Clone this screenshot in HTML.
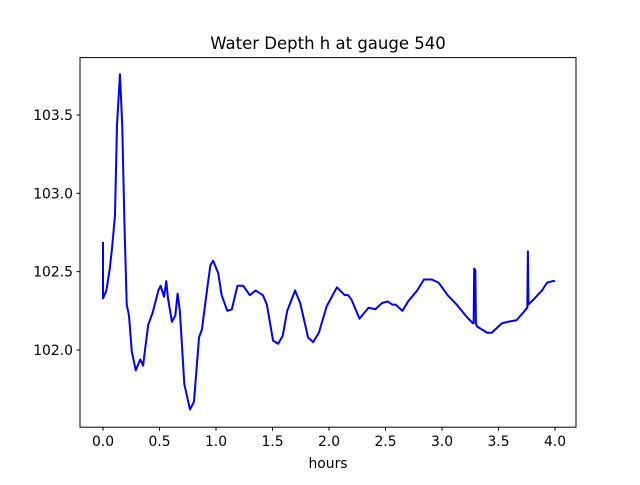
<!DOCTYPE html>
<html><head><meta charset="utf-8"><style>
body{margin:0;background:#fff;}
svg text{font-family:"DejaVu Sans","Liberation Sans",sans-serif;fill:#000;}
</style></head><body>
<svg id="chart" width="640" height="480" viewBox="0 0 640 480" xmlns="http://www.w3.org/2000/svg">
<rect width="640" height="480" fill="#fff"/>
<text x="328" y="49" font-size="16.5" text-anchor="middle">Water Depth h at gauge 540</text>
<text x="328" y="468" font-size="13.9" text-anchor="middle">hours</text>
<g id="plot"></g>
<rect x="80" y="57.6" width="496" height="369.6" fill="none" stroke="#000" stroke-width="1"/>
</svg>
<script>
const hours=[0,0,0.03,0.06,0.08,0.106,0.124,0.15,0.17,0.19,0.21,0.23,0.255,0.29,0.33,0.355,0.37,0.40,0.44,0.49,0.51,0.54,0.56,0.575,0.61,0.64,0.65,0.66,0.68,0.72,0.77,0.805,0.85,0.875,0.92,0.95,0.975,1.02,1.05,1.10,1.14,1.19,1.24,1.30,1.35,1.415,1.45,1.505,1.55,1.59,1.63,1.70,1.745,1.815,1.86,1.91,1.98,2.07,2.14,2.17,2.20,2.27,2.35,2.41,2.47,2.52,2.56,2.59,2.65,2.70,2.78,2.84,2.91,2.97,3.05,3.13,3.22,3.275,3.28,3.285,3.295,3.30,3.31,3.40,3.44,3.53,3.58,3.66,3.72,3.755,3.76,3.765,3.82,3.885,3.93,3.98,4.0];
const depth=[102.69,102.33,102.38,102.52,102.65,102.86,103.44,103.76,103.44,102.8,102.29,102.22,101.99,101.87,101.94,101.9,101.99,102.16,102.24,102.38,102.41,102.34,102.44,102.33,102.18,102.22,102.29,102.36,102.25,101.78,101.62,101.67,102.08,102.13,102.38,102.54,102.57,102.49,102.35,102.25,102.26,102.41,102.41,102.35,102.38,102.35,102.29,102.06,102.04,102.09,102.25,102.38,102.3,102.08,102.05,102.11,102.28,102.4,102.35,102.35,102.32,102.2,102.27,102.26,102.3,102.31,102.29,102.29,102.25,102.31,102.38,102.45,102.45,102.43,102.35,102.29,102.21,102.17,102.17,102.52,102.51,102.17,102.15,102.11,102.11,102.17,102.18,102.19,102.24,102.27,102.63,102.29,102.33,102.38,102.43,102.44,102.44];
const xTicks=[0,0.5,1,1.5,2,2.5,3,3.5,4];
const xTickLabels=["0.0","0.5","1.0","1.5","2.0","2.5","3.0","3.5","4.0"];
const yTicks=[102,102.5,103,103.5];
const yTickLabels=["102.0","102.5","103.0","103.5"];
const X=h=>103+113*h;
const Y=v=>350-156.67*(v-102);
const ns="http://www.w3.org/2000/svg";
const g=document.getElementById('plot');
function mk(t,a){const e=document.createElementNS(ns,t);for(const k in a)e.setAttribute(k,a[k]);g.appendChild(e);return e;}
xTicks.forEach((t,i)=>{
  const l=mk('line',{x1:X(t),x2:X(t),y1:427.2,y2:430.7,stroke:'#000'});
  
  
  const tx=mk('text',{x:X(t),y:446,'font-size':'13.9','text-anchor':'middle'});
  tx.textContent=xTickLabels[i];
  
  
});
yTicks.forEach((t,i)=>{
  const l=mk('line',{x1:76.5,x2:80,y1:Y(t),y2:Y(t),stroke:'#000'});
  
  
  const tx=mk('text',{x:73,y:Y(t)+5,'font-size':'13.9','text-anchor':'end'});
  tx.textContent=yTickLabels[i];
  
  
});
const p=mk('polyline',{points:hours.map((h,i)=>X(h)+','+Y(depth[i])).join(' '),fill:'none',stroke:'#0000ff','stroke-width':2,'stroke-linejoin':'round'});


</script>
</body></html>
